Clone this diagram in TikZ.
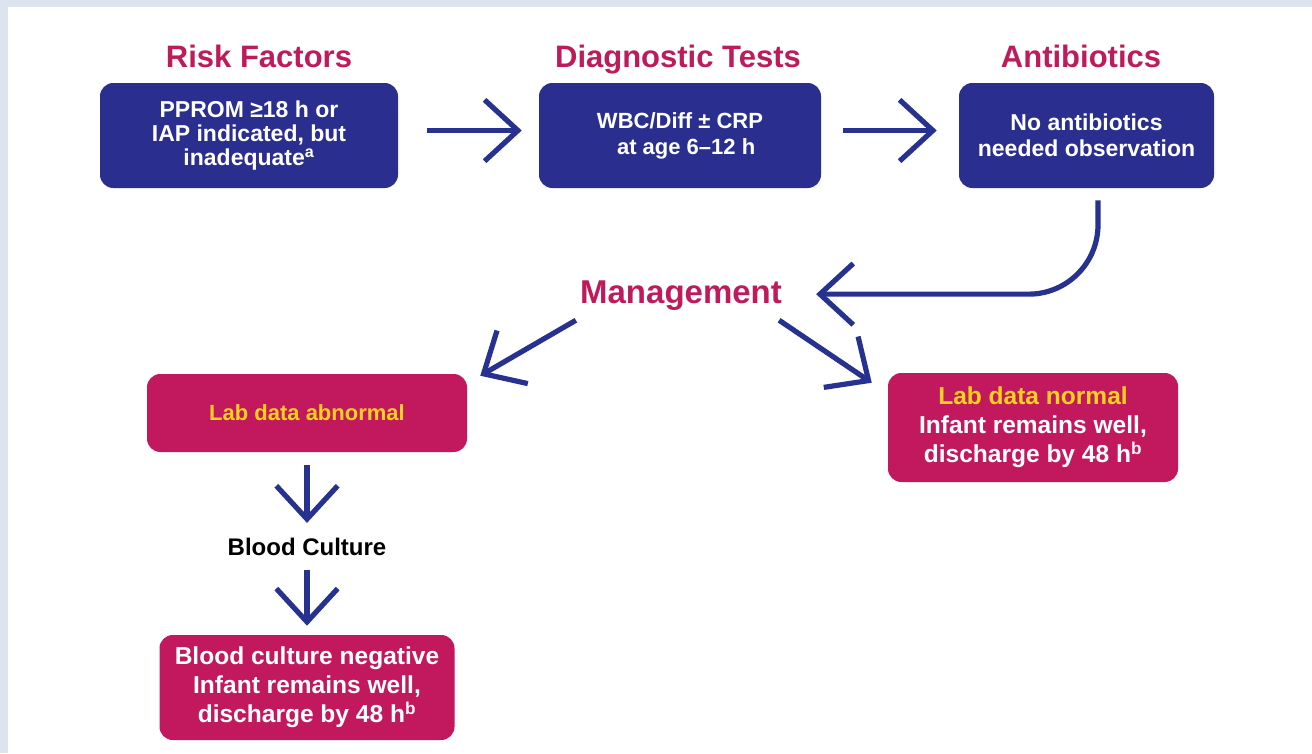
\documentclass[tikz,border=0pt]{standalone}
\usepackage{fontspec}
\setmainfont{Liberation Sans}
\usetikzlibrary{arrows.meta}
\definecolor{navy}{HTML}{2A2E8E}
\definecolor{arrowblue}{HTML}{27318F}
\definecolor{mag}{HTML}{C2185E}
\definecolor{titlecol}{HTML}{BE1B5C}
\definecolor{yel}{HTML}{F9D21C}
\definecolor{bgblue}{HTML}{DCE4EF}
\begin{document}
\begin{tikzpicture}[x=0.75pt,y=-0.75pt,
  bluebox/.style={fill=navy, rounded corners=10pt, text=white, align=center, inner sep=0pt,
    font=\bfseries\fontsize{17.25pt}{18pt}\selectfont},
  pinkbox/.style={fill=mag, rounded corners=10pt, text=white, align=center, inner sep=0pt,
    font=\bfseries\fontsize{18.4pt}{21.75pt}\selectfont},
  titletext/.style={text=titlecol, inner sep=0pt, anchor=base, font=\bfseries\fontsize{23.25pt}{26pt}\selectfont},
  arr/.style={draw=arrowblue, line width=3.9pt, -{Straight Barb[length=25pt,width=46pt]}}]
\fill[bgblue] (0,0) rectangle (1312,753);
\fill[white] (8,7) rectangle (1312,753);
\useasboundingbox (0,0) rectangle (1312,753);

\node[titletext] (t1) at (259,67) {Risk Factors};
\node[titletext] (t2) at (678,67) {Diagnostic Tests};
\node[titletext] (t3) at (1081,67) {Antibiotics};

\node[bluebox, minimum width=223.5pt, minimum height=78.75pt] (b1) at (249,135.5)
  {PPROM ≥18 h or\\IAP indicated, but\\inadequate\textsuperscript{a}};
\node[bluebox, minimum width=211.5pt, minimum height=78.75pt,
  font=\bfseries\fontsize{16.5pt}{19.5pt}\selectfont] (b2) at (680,135.5)
  {WBC/Diff ± CRP\\\phantom{x}at age 6–12 h};
\node[bluebox, minimum width=191.25pt, minimum height=78.75pt,
  font=\bfseries\fontsize{17.25pt}{19.5pt}\selectfont] (b3) at (1086.5,135.5)
  {No antibiotics\\needed observation};

\node[text=titlecol, inner sep=0pt, anchor=base, font=\bfseries\fontsize{24.75pt}{27pt}\selectfont] (mg) at (681,303) {Management};

\node[pinkbox, minimum width=240pt, minimum height=58.5pt, text=yel,
  font=\bfseries\fontsize{16.5pt}{19pt}\selectfont] (l1) at (307,413) {Lab data abnormal};
\node[pinkbox, minimum width=217.5pt, minimum height=81.75pt] (l2) at (1033,427.5)
  {\textcolor{yel}{Lab data normal}\\Infant remains well,\\discharge by 48 h\textsuperscript{b}};
\node[inner sep=0pt, font=\bfseries\fontsize{18pt}{20pt}\selectfont] (bc) at (307,547) {Blood Culture};
\node[pinkbox, minimum width=221.25pt, minimum height=78.75pt] (l3) at (307,687.5)
  {Blood culture negative\\Infant remains well,\\discharge by 48 h\textsuperscript{b}};

\draw[arr, shorten <=21.75pt, shorten >=12.75pt] ([shift={(0,-5)}]b1.east) -- ([shift={(0,-5)}]b2.west);
\draw[arr, shorten <=16.5pt, shorten >=16.5pt] ([shift={(0,-5)}]b2.east) -- ([shift={(0,-5)}]b3.west);
\draw[arr, rounded corners=52pt] ([shift={(11.5,12)}]b3.south) |- ([shift={(34,-1)}]mg.east);
\draw[arr] ([shift={(-4,10)}]mg.south west) -- ([shift={(13,2)}]l1.north east);
\draw[arr] ([shift={(-3,10)}]mg.south east) -- ([shift={(-16,10)}]l2.north west);
\draw[arr, shorten <=9.75pt, shorten >=11.25pt] (l1.south) -- (bc.north);
\draw[arr, shorten <=10.5pt, shorten >=6.75pt] (bc.south) -- (l3.north);
\end{tikzpicture}
\end{document}
